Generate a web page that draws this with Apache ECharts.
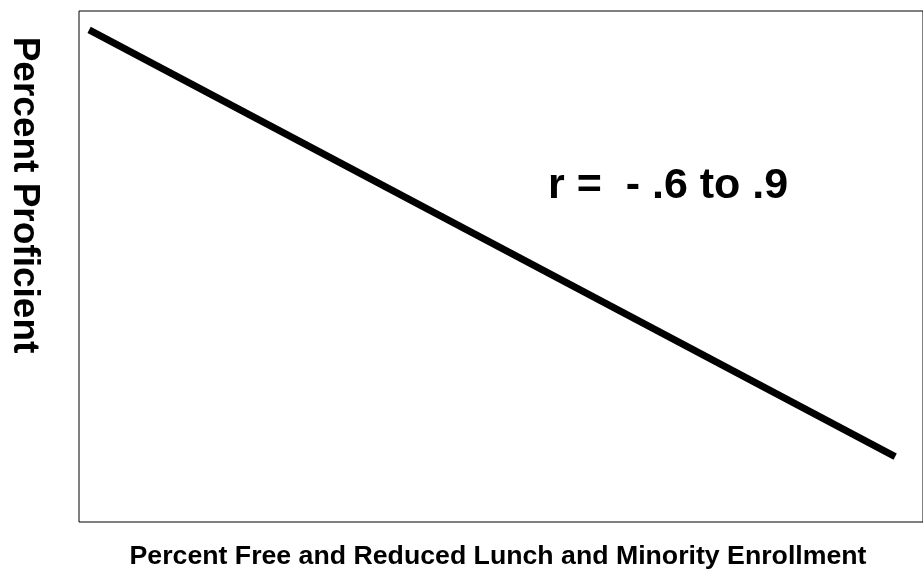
<!DOCTYPE html>
<html>
<head>
<meta charset="utf-8">
<script src="https://cdn.jsdelivr.net/npm/echarts@6/dist/echarts.min.js"></script>
<style>
  html, body { margin: 0; padding: 0; background: #fff; }
  #chart { width: 923px; height: 569px; }
</style>
</head>
<body>
<div id="chart"></div>
<script>
// trend line end points (x = % free/reduced lunch & minority, y = % proficient)
const lineX = [1.2, 96.7];
const lineY = [96.3, 12.8];
const xTitle = 'Percent Free and Reduced Lunch and Minority Enrollment';
const yTitle = 'Percent Proficient';
const note = 'r =  - .6 to .9';

const font = 'Liberation Sans, Arial, Helvetica, sans-serif';

let chart = echarts.init(document.getElementById('chart'));
let option = {
  backgroundColor: '#fff',
  animation: false,
  // box runs off the right edge of the picture, so no right border shows
  grid: {
    left: 79, top: 11, right: -3, bottom: 47,
    show: true,
    borderColor: '#000',
    borderWidth: 1,
    backgroundColor: 'transparent'
  },
  xAxis: {
    type: 'value', min: 0, max: 100,
    axisLine: { show: false }, axisTick: { show: false },
    axisLabel: { show: false }, splitLine: { show: false }
  },
  yAxis: {
    type: 'value', min: 0, max: 100,
    axisLine: { show: false }, axisTick: { show: false },
    axisLabel: { show: false }, splitLine: { show: false }
  },
  graphic: [
    {
      type: 'text', x: 498, y: 557,
      style: {
        text: xTitle, fill: '#000',
        font: 'bold 26.7px ' + font,
        textAlign: 'center', textVerticalAlign: 'middle'
      }
    },
    {
      type: 'text', x: 24.5, y: 195, rotation: -Math.PI / 2,
      style: {
        text: yTitle, fill: '#000',
        font: 'bold 37px ' + font,
        textAlign: 'center', textVerticalAlign: 'middle'
      }
    },
    {
      type: 'text', x: 548, y: 186,
      style: {
        text: note, fill: '#000',
        font: 'bold 43px ' + font,
        textAlign: 'left', textVerticalAlign: 'middle'
      }
    }
  ],
  series: [{
    type: 'line',
    data: lineX.map((x, i) => [x, lineY[i]]),
    symbol: 'none',
    lineStyle: { color: '#000', width: 7, cap: 'butt' }
  }]
};
chart.setOption(option);
</script>
</body>
</html>
